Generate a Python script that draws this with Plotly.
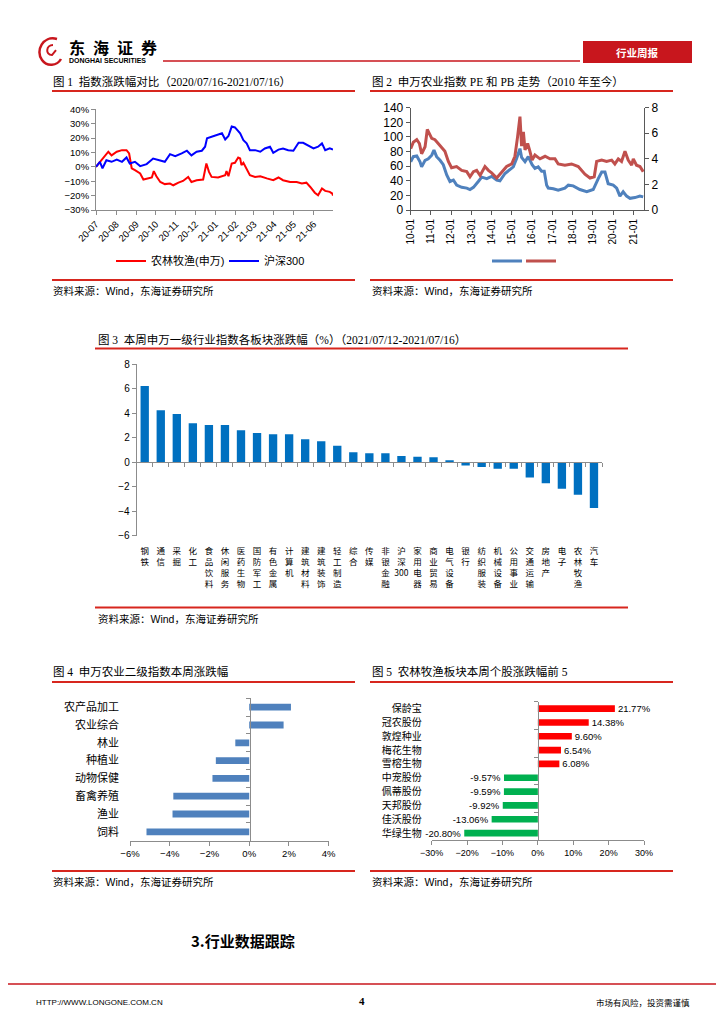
import plotly.graph_objects as go
import pandas as pd

# the page body adds an 8px margin; the figure is sized and shifted to sit on the reference page grid
OFF = 8
FW, FH = 724 - OFF, 1024 - OFF
def X(px): return (px - OFF) / FW
def Y(py): return 1 - (py - OFF) / FH

SANS = "Liberation Sans, Arial, Noto Sans CJK SC"
CJK = "Noto Sans CJK SC, Liberation Sans"
SERIF = "Liberation Serif, Noto Sans CJK SC"
AX = "#8C8C8C"
AX2 = "#595959"
RULE = "#D7261E"

# ---------------- data ----------------
# Fig 1: day offsets from start date, cumulative change (%)
c1_start = "2020-07-16"
c1_end = "2021-07-16"
c1_red_day = [0, 6, 14, 19, 24, 32, 40, 47, 51, 55, 60, 68, 73, 81, 86, 89, 93, 99, 106, 114,
              119, 127, 134, 142, 147, 155, 165, 170, 174, 178, 181, 188, 199, 201, 204, 209, 214, 219, 222, 224,
              227, 232, 237, 245, 253, 263, 273, 281, 288, 299, 309, 317, 324, 330, 337, 342, 348, 353, 360, 364, 365]
c1_red_val = [0, 3.5, 8, 10.5, 8, 10.5, 11.6, 11.6, 9.3, -1, -2.3, -4.6, -8.8, -8, -7.4, -3, -6.5, -10.5, -12, -11.6,
              -12.8, -11, -9.8, -7, -10.5, -9.3, -8.8, 2.3, -3.5, -7, -7, -7.4, -5.8, -3, -6.5, 2.3, 2.8, 6.5, 5.8, 1.2,
              2.8, -1, -5.8, -7, -6.5, -8, -9.3, -7.4, -9.3, -10.5, -10.5, -11.6, -11, -14, -18, -19.8, -15, -16.7, -17.4, -18.6, -20]
c1_blue_day = [0, 6, 10, 16, 24, 32, 40, 47, 52, 60, 68, 78, 88, 99, 106, 114, 122, 132, 140, 147,
               155, 163, 168, 171, 178, 186, 194, 199, 204, 209, 214, 222, 227, 232, 237, 245, 253, 260, 268, 273,
               281, 288, 296, 304, 312, 319, 327, 335, 342, 348, 353, 360, 365]
c1_blue_val = [0, 3.5, -1, 4.6, 3.5, 5, 3.5, 6.5, 2.3, 3.5, 0.5, 1.9, 5.8, 4.2, 3.5, 8.8, 7.4, 9.3, 11.2, 8,
               10.5, 11.2, 14, 19.8, 21, 22, 23.3, 19, 21.4, 28, 27.4, 23.3, 18.6, 16.3, 11.6, 11.6, 10.5, 12.8, 14, 9.8,
               12, 12.8, 11.6, 11.2, 16.7, 16.7, 15, 12.8, 14, 16.3, 11.6, 12.8, 12]
c1_tick_dates = ["2020-07-16", "2020-08-16", "2020-09-16", "2020-10-16", "2020-11-16", "2020-12-16",
                 "2021-01-16", "2021-02-16", "2021-03-16", "2021-04-16", "2021-05-16", "2021-06-16"]
c1_tick_text = ["20-07", "20-08", "20-09", "20-10", "20-11", "20-12",
                "21-01", "21-02", "21-03", "21-04", "21-05", "21-06"]

# Fig 2: decimal year, PE (left axis) and PB (right axis)
c2_pe_year = [2010.00, 2010.13, 2010.30, 2010.46, 2010.54, 2010.71, 2010.87, 2011.04, 2011.15, 2011.28,
              2011.45, 2011.61, 2011.78, 2011.94, 2012.11, 2012.27, 2012.52, 2012.77, 2012.93, 2013.10,
              2013.34, 2013.51, 2013.76, 2014.00, 2014.25, 2014.41, 2014.66, 2014.91, 2015.07, 2015.23,
              2015.40, 2015.48, 2015.65, 2015.81, 2016.00, 2016.14, 2016.30, 2016.47, 2016.60, 2016.72,
              2016.80, 2017.05, 2017.29, 2017.62, 2017.79, 2018.03, 2018.36, 2018.70, 2019.02, 2019.27, 2019.44,
              2019.60, 2019.76, 2020.01, 2020.18, 2020.34, 2020.50, 2020.67, 2020.84, 2021.08, 2021.33, 2021.49]
c2_pe_val = [66, 73, 74, 66, 59, 68, 70, 75, 82, 73,
             68, 62, 48, 39, 41, 34, 31, 30, 28, 31,
             39, 45, 43, 46, 41, 40, 50, 56, 59, 70,
             84, 72, 66, 73, 62, 57, 59, 53, 53, 34,
             30, 29, 27, 30, 34, 33, 28, 25, 28, 43, 52,
             52, 36, 34, 30, 19, 25, 19, 16, 17, 19, 18]
c2_pb_year = [2010.00, 2010.13, 2010.30, 2010.43, 2010.54, 2010.71, 2010.82, 2010.92, 2011.04, 2011.20,
              2011.36, 2011.53, 2011.69, 2011.86, 2012.02, 2012.27, 2012.52, 2012.77, 2012.93, 2013.10,
              2013.26, 2013.43, 2013.67, 2013.84, 2014.00, 2014.25, 2014.49, 2014.74, 2014.99, 2015.15,
              2015.28, 2015.40, 2015.48, 2015.57, 2015.65, 2015.78, 2015.89, 2016.00, 2016.14, 2016.39,
              2016.64, 2016.88, 2017.13, 2017.29, 2017.62, 2017.95, 2018.28, 2018.61, 2018.86, 2019.07,
              2019.19, 2019.44, 2019.68, 2019.93, 2020.09, 2020.26, 2020.42, 2020.59, 2020.75, 2020.92,
              2021.00, 2021.16, 2021.33, 2021.49]
c2_pb_val = [4.8, 5.3, 5.5, 5.2, 4.4, 4.95, 6.3, 6.0, 5.6, 5.5,
             5.2, 4.95, 4.6, 3.8, 3.3, 3.4, 3.1, 3.0, 2.6, 3.0,
             3.1, 2.7, 3.4, 3.1, 2.9, 2.5, 2.9, 3.4, 3.6, 4.2,
             5.7, 7.3, 5.0, 6.1, 4.7, 5.2, 4.6, 3.9, 4.3, 4.0,
             4.2, 4.0, 4.0, 3.6, 3.5, 3.6, 3.4, 2.8, 2.5, 2.6,
             3.8, 3.9, 3.8, 3.9, 3.6, 4.0, 3.8, 4.6, 3.9, 3.5,
             4.0, 3.5, 3.4, 3.0]
c2_tick_year = [2010, 2011, 2012, 2013, 2014, 2015, 2016, 2017, 2018, 2019, 2020, 2021]
c2_tick_text = ["10-01", "11-01", "12-01", "13-01", "14-01", "15-01",
                "16-01", "17-01", "18-01", "19-01", "20-01", "21-01"]

# Fig 3
c3_cats = ["钢铁", "通信", "采掘", "化工", "食品饮料", "休闲服务", "医药生物", "国防军工", "有色金属", "计算机",
           "建筑材料", "建筑装饰", "轻工制造", "综合", "传媒", "非银金融", "沪深300", "家用电器", "商业贸易", "电气设备",
           "银行", "纺织服装", "机械设备", "公用事业", "交通运输", "房地产", "电子", "农林牧渔", "汽车"]
c3_vals = [6.23, 4.24, 3.95, 3.18, 3.05, 3.05, 2.61, 2.39, 2.29, 2.29,
           1.88, 1.71, 1.36, 0.82, 0.73, 0.73, 0.52, 0.46, 0.41, 0.11,
           -0.27, -0.38, -0.52, -0.52, -1.25, -1.71, -2.15, -2.64, -3.73]

# Fig 4
c4_cats = ["农产品加工", "农业综合", "林业", "种植业", "动物保健", "畜禽养殖", "渔业", "饲料"]
c4_vals = [2.10, 1.73, -0.70, -1.68, -1.85, -3.82, -3.86, -5.17]

# Fig 5
c5_cats = ["保龄宝", "冠农股份", "敦煌种业", "梅花生物", "雪榕生物", "中宠股份", "佩蒂股份", "天邦股份", "佳沃股份", "华绿生物"]
c5_vals = [21.77, 14.38, 9.60, 6.54, 6.08, -9.57, -9.59, -9.92, -13.06, -20.80]

# ---------------- traces ----------------
fig = go.Figure()
t0 = pd.Timestamp(c1_start)
fig.add_trace(go.Scatter(x=[t0 + pd.Timedelta(days=d) for d in c1_red_day], y=c1_red_val,
                         mode="lines", name="农林牧渔(申万)", line=dict(color="#FF0000", width=2),
                         xaxis="x", yaxis="y", legend="legend"))
fig.add_trace(go.Scatter(x=[t0 + pd.Timedelta(days=d) for d in c1_blue_day], y=c1_blue_val,
                         mode="lines", name="沪深300", line=dict(color="#0000FF", width=2),
                         xaxis="x", yaxis="y", legend="legend3"))

fig.add_trace(go.Scatter(x=c2_pe_year, y=c2_pe_val, mode="lines", name=" ",
                         line=dict(color="#4F81BD", width=3), xaxis="x2", yaxis="y2", legend="legend2"))
fig.add_trace(go.Scatter(x=c2_pb_year, y=c2_pb_val, mode="lines", name=" ",
                         line=dict(color="#C0504D", width=3), xaxis="x2", yaxis="y3", legend="legend4"))

fig.add_trace(go.Bar(x=c3_cats, y=c3_vals, marker=dict(color="#0070C0", line=dict(width=0)), width=0.52,
                     xaxis="x3", yaxis="y4", showlegend=False))
fig.add_trace(go.Bar(x=c3_cats, y=[None] * len(c3_cats), xaxis="x4", yaxis="y4",
                     showlegend=False, hoverinfo="skip"))

fig.add_trace(go.Bar(x=c4_vals, y=c4_cats, orientation="h", marker=dict(color="#4F81BD", line=dict(width=0)),
                     width=0.38, xaxis="x5", yaxis="y5", showlegend=False))
fig.add_trace(go.Bar(x=[None] * len(c4_cats), y=c4_cats, orientation="h", xaxis="x5", yaxis="y6",
                     showlegend=False, hoverinfo="skip"))

c5_colors = ["#FF0000" if v > 0 else "#00B050" for v in c5_vals]
fig.add_trace(go.Bar(x=c5_vals, y=c5_cats, orientation="h", marker=dict(color=c5_colors, line=dict(width=0)),
                     width=0.48, text=[f"{v:.2f}%" for v in c5_vals], textposition="outside",
                     constraintext="none", textangle=0,
                     textfont=dict(size=9.5, family=SANS, color="#000"), cliponaxis=False,
                     xaxis="x6", yaxis="y7", showlegend=False))
fig.add_trace(go.Bar(x=[None] * len(c5_cats), y=c5_cats, orientation="h", xaxis="x6", yaxis="y8",
                     showlegend=False, hoverinfo="skip"))

# ---------------- axes ----------------
def ax(**kw):
    base = dict(showgrid=False, zeroline=False, showline=True, linecolor=AX, linewidth=1, automargin=False,
                ticks="outside", ticklen=4, tickcolor=AX, tickfont=dict(size=9, family=SANS, color="#000"))
    base.update(kw)
    return base

def leg(px, py):
    return dict(orientation="h", x=X(px), y=Y(py), xanchor="left", yanchor="middle",
                font=dict(size=11, family=SANS, color="#000"), bgcolor="rgba(0,0,0,0)")

layout = dict(
    width=FW, height=FH, margin=dict(l=0, r=0, t=0, b=0, pad=0, autoexpand=False),
    paper_bgcolor="white", plot_bgcolor="white", barmode="overlay", showlegend=True,
    xaxis=ax(domain=[X(96), X(333)], anchor="y", type="date", range=[c1_start, c1_end],
             tickvals=c1_tick_dates, ticktext=c1_tick_text, tickangle=-45,
             tickfont=dict(size=9.5, family=SANS, color="#000")),
    yaxis=ax(domain=[Y(210), Y(109.3)], anchor="x", range=[-30, 40], dtick=10, ticksuffix="%",
             tickfont=dict(size=9.5, family=SANS, color="#000")),
    xaxis2=ax(domain=[X(410.7), X(644)], anchor="y2", range=[2010, 2021.53], tickvals=c2_tick_year,
              ticktext=c2_tick_text, tickangle=-90, linecolor=AX2, tickcolor=AX2,
              tickfont=dict(size=10, family=SANS, color="#000")),
    yaxis2=ax(domain=[Y(210), Y(107.7)], anchor="x2", range=[0, 140], dtick=20, linecolor=AX2, tickcolor=AX2,
              tickfont=dict(size=12, family=SANS, color="#000")),
    yaxis3=ax(overlaying="y2", anchor="x2", side="right", range=[0, 8], dtick=2, linecolor=AX2, tickcolor=AX2,
              tickfont=dict(size=12, family=SANS, color="#000")),
    xaxis3=dict(domain=[X(136.7), X(602)], anchor="y4", type="category", range=[-0.5, len(c3_cats) - 0.5],
                showline=False, showgrid=False, zeroline=False, ticks="", tickangle=0, automargin=False,
                tickvals=c3_cats,
                ticktext=["<br>".join(list(c)) if not c.endswith("300") else "沪<br>深<br>300" for c in c3_cats],
                tickfont=dict(size=8.5, family=CJK, color="#000"), ticklabelstandoff=9),
    xaxis4=ax(overlaying="x3", anchor="free", position=Y(462.3), type="category",
              range=[-0.5, len(c3_cats) - 0.5], tickson="boundaries", showticklabels=False),
    yaxis4=ax(domain=[Y(535.8), Y(364.3)], anchor="x3", range=[-6, 8], dtick=2,
              tickfont=dict(size=10, family=SANS, color="#000")),
    xaxis5=ax(domain=[X(130), X(328.7)], anchor="y5", range=[-6, 4], dtick=2, ticksuffix="%",
              tickfont=dict(size=9.5, family=SANS, color="#000")),
    yaxis5=dict(domain=[Y(840.7), Y(698.3)], anchor="x5", type="category", categoryorder="array",
                categoryarray=c4_cats, range=[len(c4_cats) - 0.5, -0.5], showline=False, showgrid=False,
                zeroline=False, ticks="", ticklabelstandoff=10, automargin=False,
                tickfont=dict(size=11, family=CJK, color="#000")),
    yaxis6=ax(overlaying="y5", anchor="free", position=X(250), type="category", categoryorder="array",
              categoryarray=c4_cats, range=[len(c4_cats) - 0.5, -0.5], tickson="boundaries", showticklabels=False),
    xaxis6=ax(domain=[X(431.7), X(644)], anchor="y7", range=[-30, 30], dtick=10, ticksuffix="%",
              tickfont=dict(size=9, family=SANS, color="#000")),
    yaxis7=dict(domain=[Y(840), Y(701.7)], anchor="x6", type="category", categoryorder="array",
                categoryarray=c5_cats, range=[len(c5_cats) - 0.5, -0.5], showline=False, showgrid=False,
                zeroline=False, ticks="", ticklabelstandoff=9, automargin=False,
                tickfont=dict(size=10, family=CJK, color="#000")),
    yaxis8=ax(overlaying="y7", anchor="free", position=X(538), type="category", categoryorder="array",
              categoryarray=c5_cats, range=[len(c5_cats) - 0.5, -0.5], tickson="boundaries", showticklabels=False),
    legend=leg(111, 261),
    legend3=leg(224, 261),
    legend2=leg(487, 261),
    legend4=leg(521, 261),
)
fig.update_layout(**layout)

# ---------------- page decoration ----------------
shapes = []
annotations = []

def rule(x0, x1, y, w=2, color=RULE):
    shapes.append(dict(type="line", xref="paper", yref="paper", x0=X(x0), x1=X(x1), y0=Y(y), y1=Y(y),
                       line=dict(color=color, width=w)))

def txt(s, px, py, size, family=CJK, color="#000", xanchor="left"):
    annotations.append(dict(text=s, x=X(px), y=Y(py), xref="paper", yref="paper", showarrow=False,
                            xanchor=xanchor, yanchor="middle", font=dict(size=size, family=family, color=color)))

def pt(px, py):
    return f"{X(px):.5f},{Y(py):.5f}"

# header
shapes.append(dict(type="path", xref="paper", yref="paper",
                   path=f"M {pt(57,39)} C {pt(43,35)} {pt(35,51)} {pt(42,60)} C {pt(47,67)} {pt(57,66)} {pt(61,59)}",
                   line=dict(color="#C8161D", width=2.5)))
shapes.append(dict(type="path", xref="paper", yref="paper",
                   path=f"M {pt(53,45)} C {pt(46,45)} {pt(45,55)} {pt(52,55)} L {pt(56,50)}",
                   line=dict(color="#C8161D", width=2)))
txt("<b>东\u2002海\u2002证\u2002券</b>", 67, 47, 16)
txt("<b>DONGHAI SECURITIES</b>", 67, 60, 7, family=SANS)
rule(163, 580, 61, w=1.5, color="#C8161D")
shapes.append(dict(type="rect", xref="paper", yref="paper", x0=X(583), x1=X(692), y0=Y(63), y1=Y(41),
                   fillcolor="#C8161D", line=dict(width=0)))
txt("<b>行业周报</b>", 637.5, 52, 10.5, color="#FFFFFF", xanchor="center")

# figure titles, rules and sources
src = "资料来源：Wind，东海证券研究所"
TS = 11.5
txt("图 1  指数涨跌幅对比（2020/07/16-2021/07/16）", 51, 81.5, TS, family=SERIF)
txt("图 2  申万农业指数 PE 和 PB 走势（2010 年至今）", 370, 81.5, TS, family=SERIF)
txt("图 3  本周申万一级行业指数各板块涨跌幅（%）（2021/07/12-2021/07/16）", 96, 339, TS, family=SERIF)
txt("图 4  申万农业二级指数本周涨跌幅", 51, 671.5, TS, family=SERIF)
txt("图 5  农林牧渔板块本周个股涨跌幅前 5", 370, 671.5, TS, family=SERIF)
for (a, b, y) in [(52, 355, 91), (370, 673, 91), (95, 628, 348.5), (52, 355, 682), (370, 673, 682),
                  (52, 355, 280), (370, 673, 280), (95, 628, 607.5), (52, 355, 871), (370, 673, 871)]:
    rule(a, b, y)
txt(src, 51, 291, 10.5, family=SANS)
txt(src, 370, 291, 10.5, family=SANS)
txt(src, 96, 619, 10.5, family=SANS)
txt(src, 51, 881.5, 10.5, family=SANS)
txt(src, 370, 881.5, 10.5, family=SANS)

# section heading and footer
txt("<b>3.行业数据跟踪</b>", 189, 940, 15)
rule(OFF, 724, 984, w=1.5, color="#C8161D")
txt("HTTP://WWW.LONGONE.COM.CN", 34, 1002, 8, family=SANS)
txt("<b>4</b>", 362, 1001, 11, family=SERIF, xanchor="center")
txt("市场有风险，投资需谨慎", 692, 1002, 8.5, xanchor="right")

fig.update_layout(shapes=shapes, annotations=annotations)
fig.write_html("out.html")
